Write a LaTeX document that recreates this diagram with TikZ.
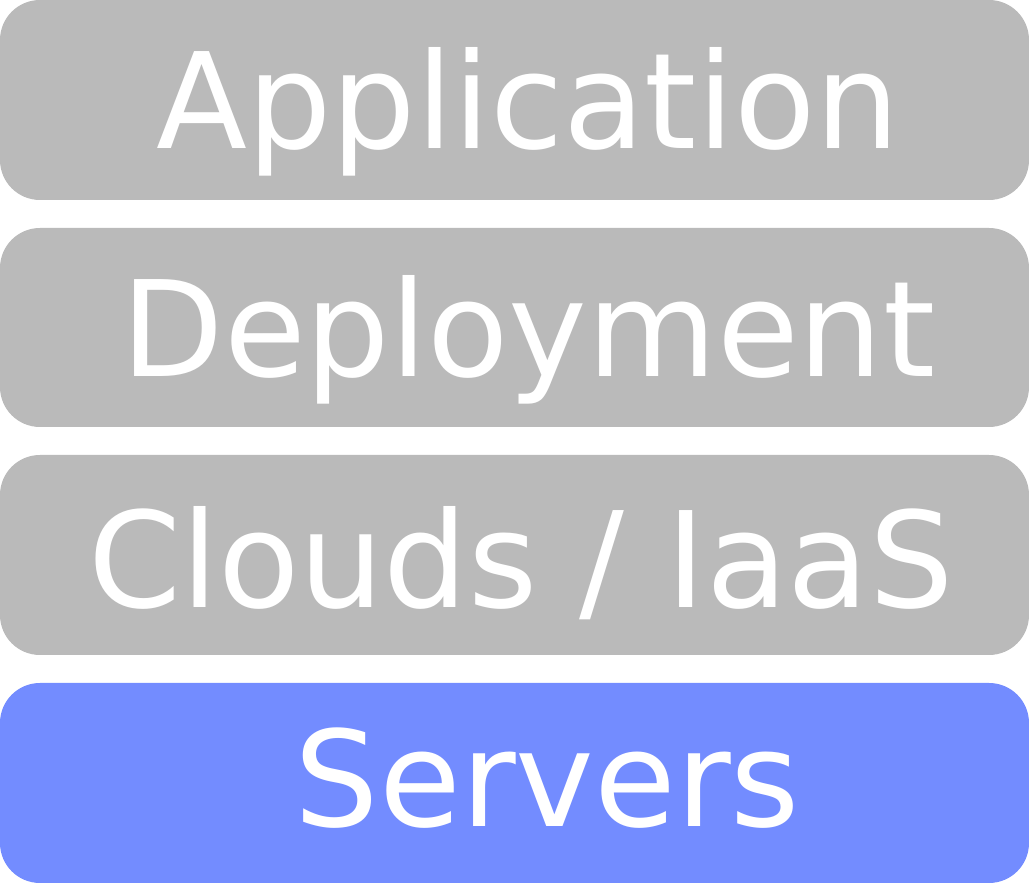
\documentclass[tikz,border=0pt]{standalone}
\usepackage{fontspec}
\setmainfont{DejaVu Sans}
\definecolor{layergray}{HTML}{BABABA}
\definecolor{layerblue}{HTML}{738CFF}
\begin{document}
\begin{tikzpicture}[x=1pt,y=1pt,
  layer/.style={rounded corners=40pt, draw=none},
  lbl/.style={anchor=base, text=white, font=\fontsize{133}{140}\selectfont, inner sep=0pt}]
\useasboundingbox (0,0) rectangle (1029,883);
\fill[layer, layergray] (0,683) rectangle (1029,883);
\fill[layer, layergray] (0,456) rectangle (1029,655);
\fill[layer, layergray] (0,228) rectangle (1029,428);
\fill[layer, layerblue] (0,0) rectangle (1029,200);
\node[lbl] (app) at (528,734) {Application};
\node[lbl] (dep) at (528.5,506) {Deployment};
\node[lbl] (iaas) at (521,275) {Clouds / IaaS};
\node[lbl] (srv) at (547.5,56) {Servers};
\end{tikzpicture}
\end{document}
